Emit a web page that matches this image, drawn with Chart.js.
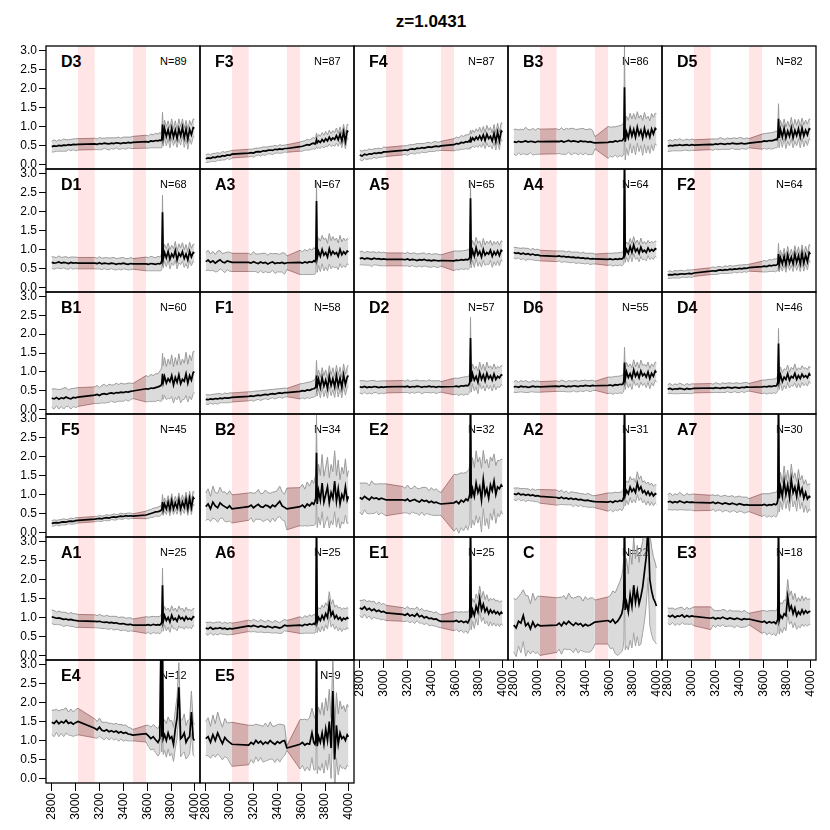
<!DOCTYPE html>
<html>
<head>
<meta charset="utf-8">
<script src="https://cdn.jsdelivr.net/npm/chart.js@4.4.0/dist/chart.umd.min.js"></script>
<style>
html,body{margin:0;padding:0;background:#fff;}
#root{position:relative;width:830px;height:830px;overflow:hidden;font-family:"Liberation Sans",Arial,Helvetica,sans-serif;color:#000;}
#root canvas{position:absolute;}
.title{position:absolute;left:281px;width:300px;top:13px;text-align:center;font-weight:bold;font-size:17px;line-height:17px;}
.pname{position:absolute;font-weight:bold;font-size:16px;line-height:16px;white-space:nowrap;}
.pn{position:absolute;font-size:11px;line-height:11px;white-space:nowrap;text-align:right;width:60px;}
</style>
</head>
<body>
<div id="root"><div class="title">z=1.0431</div></div>
<script>
// ---------------- data ----------------
const wavelength = [
  2800,2820,2840,2860,2880,2900,2920,2940,2960,2980,3000,3020,
  3160,3180,3200,3220,3240,3260,3280,3300,3320,3340,3360,3380,3400,3420,3440,3460,3480,
  3590,3610,3630,3650,3670,3690,3705,3715,3722,3728,3734,3745,3760,3775,3790,3805,3820,3835,3850,3865,3880,3895,3910,3925,3940,3955,3970,3985,3995
];
const segments = [[0,11],[12,28],[29,57]];
const maskBands = [[3020,3160],[3480,3590]];
const xTicks = [2800,3000,3200,3400,3600,3800,4000];
const yTicks = [0,0.5,1,1.5,2,2.5,3];
const xRange = [2752,4042];
const yRange = [-0.12,3.12];
const panelNames = ['D3','F3','F4','B3','D5','D1','A3','A5','A4','F2','B1','F1','D2','D6','D4','F5','B2','E2','A2','A7','A1','A6','E1','C','E3','E4','E5'];
const panelN = [89,87,87,86,82,68,67,65,64,64,60,58,57,55,46,45,34,32,31,30,25,25,25,22,18,12,9];

const med_D3 = [0.47,0.49,0.48,0.50,0.49,0.51,0.50,0.52,0.51,0.53,0.52,0.53,
  0.54,0.53,0.55,0.54,0.56,0.55,0.54,0.56,0.55,0.57,0.56,0.55,0.57,0.56,0.58,0.57,0.58,
  0.60,0.59,0.62,0.61,0.63,0.62,0.64,0.63,0.66,1.05,0.72,0.95,0.74,0.92,0.70,0.96,0.72,0.90,0.68,0.94,0.75,0.98,0.70,0.93,0.66,0.92,0.78,0.97,0.95];
const hw_D3 = [0.14,0.16,0.13,0.15,0.14,0.16,0.15,0.13,0.15,0.14,0.16,0.15,
  0.15,0.14,0.16,0.15,0.13,0.15,0.16,0.14,0.15,0.13,0.16,0.14,0.15,0.16,0.14,0.15,0.16,
  0.17,0.16,0.18,0.17,0.19,0.18,0.20,0.19,0.22,0.32,0.24,0.22,0.25,0.23,0.26,0.24,0.22,0.25,0.23,0.26,0.24,0.22,0.25,0.23,0.26,0.24,0.25,0.23,0.24];

const med_F3 = [0.15,0.17,0.16,0.19,0.18,0.21,0.20,0.23,0.22,0.25,0.24,0.27,
  0.30,0.31,0.30,0.33,0.34,0.33,0.36,0.35,0.37,0.38,0.37,0.40,0.39,0.41,0.40,0.42,0.42,
  0.47,0.48,0.50,0.52,0.51,0.55,0.56,0.54,0.58,0.65,0.57,0.62,0.58,0.66,0.60,0.68,0.62,0.72,0.64,0.70,0.66,0.76,0.65,0.80,0.62,0.86,0.60,0.88,0.86];
const hw_F3 = [0.10,0.11,0.09,0.10,0.11,0.10,0.09,0.11,0.10,0.09,0.11,0.10,
  0.10,0.09,0.11,0.10,0.09,0.11,0.10,0.11,0.09,0.10,0.11,0.10,0.09,0.11,0.10,0.09,0.10,
  0.12,0.13,0.12,0.14,0.13,0.14,0.15,0.14,0.16,0.18,0.15,0.17,0.16,0.18,0.17,0.19,0.16,0.18,0.17,0.19,0.18,0.20,0.17,0.19,0.18,0.20,0.19,0.18,0.19];

const med_F4 = [0.25,0.22,0.27,0.25,0.28,0.27,0.30,0.29,0.31,0.30,0.33,0.33,
  0.37,0.38,0.37,0.40,0.41,0.40,0.43,0.42,0.44,0.43,0.45,0.46,0.45,0.47,0.48,0.47,0.49,
  0.52,0.55,0.54,0.58,0.57,0.60,0.59,0.62,0.60,0.68,0.62,0.70,0.64,0.72,0.66,0.75,0.65,0.78,0.63,0.80,0.68,0.74,0.62,0.82,0.60,0.85,0.62,0.88,0.85];
const hw_F4 = [0.12,0.13,0.11,0.12,0.13,0.12,0.11,0.13,0.12,0.11,0.13,0.12,
  0.12,0.11,0.13,0.12,0.11,0.13,0.12,0.13,0.11,0.12,0.13,0.12,0.11,0.13,0.12,0.11,0.12,
  0.16,0.17,0.16,0.18,0.17,0.18,0.19,0.18,0.20,0.22,0.19,0.21,0.20,0.22,0.21,0.23,0.20,0.22,0.21,0.23,0.22,0.24,0.21,0.23,0.22,0.24,0.23,0.22,0.23];

const med_B3 = [0.60,0.58,0.61,0.59,0.60,0.62,0.59,0.61,0.60,0.58,0.61,0.60,
  0.61,0.60,0.62,0.59,0.61,0.63,0.60,0.62,0.61,0.59,0.62,0.60,0.61,0.59,0.60,0.58,0.57,
  0.58,0.60,0.59,0.62,0.60,0.63,0.62,0.65,0.70,2.03,0.60,0.85,0.70,0.95,0.75,0.92,0.72,0.98,0.78,0.90,0.70,0.95,0.75,0.88,0.72,0.93,0.80,0.95,0.92];
const hw_B3 = [0.32,0.35,0.30,0.34,0.31,0.36,0.33,0.30,0.35,0.32,0.34,0.33,
  0.33,0.31,0.35,0.32,0.34,0.30,0.35,0.33,0.31,0.34,0.32,0.35,0.31,0.33,0.34,0.32,0.16,
  0.42,0.38,0.40,0.37,0.41,0.39,0.42,0.40,0.45,1.15,0.48,0.42,0.46,0.40,0.45,0.42,0.47,0.41,0.44,0.40,0.46,0.42,0.45,0.39,0.43,0.41,0.44,0.40,0.42];

const med_D5 = [0.48,0.50,0.49,0.51,0.50,0.52,0.50,0.51,0.52,0.50,0.52,0.51,
  0.53,0.52,0.54,0.53,0.55,0.54,0.53,0.55,0.54,0.56,0.55,0.54,0.55,0.56,0.54,0.55,0.56,
  0.60,0.62,0.61,0.63,0.62,0.64,0.66,0.65,0.72,1.20,0.70,0.92,0.72,0.95,0.70,0.88,0.74,0.96,0.70,0.90,0.76,0.94,0.72,0.96,0.75,0.90,0.78,0.94,0.92];
const hw_D5 = [0.14,0.15,0.13,0.15,0.14,0.16,0.14,0.13,0.15,0.14,0.15,0.14,
  0.14,0.15,0.13,0.14,0.16,0.14,0.13,0.15,0.14,0.13,0.15,0.14,0.16,0.14,0.13,0.15,0.12,
  0.20,0.19,0.21,0.20,0.22,0.21,0.22,0.21,0.24,0.40,0.26,0.24,0.27,0.25,0.28,0.26,0.25,0.28,0.26,0.29,0.27,0.25,0.28,0.26,0.29,0.27,0.28,0.26,0.27];

const med_D1 = [0.66,0.64,0.65,0.67,0.64,0.66,0.65,0.63,0.66,0.64,0.65,0.64,
  0.64,0.63,0.65,0.62,0.64,0.63,0.62,0.64,0.63,0.61,0.63,0.62,0.64,0.62,0.61,0.63,0.62,
  0.62,0.61,0.63,0.62,0.61,0.63,0.62,0.64,0.70,1.98,0.75,0.92,0.78,0.95,0.74,0.88,0.80,0.97,0.72,0.90,0.82,0.94,0.76,0.88,0.72,0.95,0.80,0.92,0.90];
const hw_D1 = [0.15,0.16,0.14,0.16,0.15,0.14,0.16,0.15,0.14,0.16,0.15,0.15,
  0.15,0.14,0.16,0.15,0.14,0.16,0.15,0.14,0.16,0.15,0.14,0.16,0.15,0.14,0.15,0.16,0.14,
  0.18,0.17,0.19,0.18,0.17,0.19,0.18,0.20,0.22,0.45,0.23,0.22,0.24,0.22,0.25,0.23,0.22,0.24,0.23,0.25,0.22,0.24,0.23,0.25,0.22,0.24,0.23,0.22,0.23];

const med_A3 = [0.68,0.72,0.66,0.70,0.64,0.69,0.73,0.67,0.65,0.70,0.68,0.66,
  0.66,0.64,0.68,0.65,0.63,0.67,0.64,0.66,0.62,0.65,0.67,0.63,0.65,0.64,0.66,0.63,0.65,
  0.66,0.64,0.67,0.65,0.68,0.66,0.70,0.68,0.75,2.28,0.78,0.95,0.82,1.00,0.85,0.92,0.80,1.02,0.86,0.95,0.88,0.92,0.82,1.00,0.86,0.94,0.88,0.96,0.93];
const hw_A3 = [0.24,0.26,0.22,0.25,0.23,0.27,0.24,0.22,0.26,0.23,0.25,0.24,
  0.24,0.22,0.26,0.23,0.25,0.22,0.26,0.24,0.23,0.25,0.22,0.26,0.24,0.23,0.25,0.28,0.18,
  0.32,0.30,0.33,0.31,0.34,0.32,0.35,0.33,0.36,0.55,0.38,0.36,0.40,0.37,0.41,0.38,0.36,0.40,0.37,0.39,0.36,0.38,0.35,0.37,0.34,0.36,0.35,0.33,0.34];

const med_A5 = [0.76,0.78,0.75,0.77,0.76,0.74,0.77,0.75,0.76,0.74,0.75,0.74,
  0.74,0.73,0.75,0.72,0.74,0.73,0.71,0.73,0.72,0.74,0.71,0.72,0.70,0.72,0.71,0.70,0.71,
  0.70,0.72,0.71,0.73,0.72,0.74,0.73,0.75,0.80,2.35,0.80,0.98,0.82,1.05,0.86,0.95,0.80,1.00,0.85,0.92,0.88,0.98,0.82,0.94,0.86,0.96,0.84,0.98,0.95];
const hw_A5 = [0.17,0.18,0.16,0.18,0.17,0.19,0.17,0.16,0.18,0.17,0.18,0.17,
  0.17,0.16,0.18,0.17,0.16,0.18,0.17,0.16,0.18,0.17,0.16,0.18,0.17,0.16,0.18,0.17,0.15,
  0.26,0.24,0.25,0.23,0.25,0.24,0.26,0.25,0.28,0.45,0.28,0.26,0.29,0.27,0.30,0.28,0.26,0.29,0.27,0.30,0.28,0.26,0.29,0.27,0.28,0.26,0.27,0.25,0.26];

const med_A4 = [0.92,0.90,0.91,0.88,0.90,0.87,0.89,0.86,0.88,0.85,0.86,0.84,
  0.82,0.83,0.81,0.82,0.80,0.81,0.79,0.80,0.78,0.79,0.77,0.78,0.76,0.77,0.75,0.76,0.75,
  0.74,0.75,0.73,0.75,0.74,0.76,0.75,0.77,0.82,3.60,0.88,1.00,0.90,1.08,0.92,1.12,0.95,1.02,0.90,1.06,0.94,0.98,0.92,1.04,0.95,1.00,0.96,1.02,1.00];
const hw_A4 = [0.14,0.15,0.13,0.15,0.14,0.16,0.14,0.13,0.15,0.14,0.15,0.14,
  0.14,0.13,0.15,0.14,0.13,0.15,0.14,0.13,0.15,0.14,0.13,0.15,0.14,0.13,0.15,0.14,0.13,
  0.16,0.15,0.17,0.16,0.17,0.16,0.18,0.17,0.20,0.60,0.22,0.20,0.23,0.21,0.24,0.22,0.21,0.23,0.22,0.24,0.21,0.23,0.22,0.20,0.22,0.21,0.22,0.20,0.21];

const med_F2 = [0.33,0.34,0.33,0.35,0.34,0.35,0.36,0.35,0.36,0.37,0.36,0.38,
  0.43,0.44,0.43,0.45,0.46,0.45,0.47,0.46,0.48,0.47,0.49,0.48,0.50,0.49,0.51,0.50,0.52,
  0.55,0.56,0.55,0.58,0.57,0.59,0.58,0.60,0.62,0.88,0.60,0.78,0.62,0.82,0.60,0.86,0.64,0.80,0.62,0.88,0.66,0.84,0.62,0.90,0.64,0.86,0.68,0.92,0.88];
const hw_F2 = [0.09,0.10,0.08,0.10,0.09,0.10,0.09,0.08,0.10,0.09,0.10,0.09,
  0.09,0.10,0.09,0.10,0.09,0.08,0.10,0.09,0.10,0.09,0.08,0.10,0.09,0.10,0.09,0.10,0.09,
  0.14,0.15,0.14,0.16,0.15,0.16,0.17,0.16,0.18,0.28,0.19,0.20,0.19,0.21,0.20,0.22,0.19,0.21,0.20,0.22,0.21,0.23,0.20,0.22,0.21,0.23,0.22,0.21,0.22];

const med_B1 = [0.30,0.28,0.32,0.27,0.31,0.29,0.33,0.30,0.28,0.32,0.31,0.33,
  0.38,0.40,0.37,0.41,0.42,0.40,0.43,0.44,0.42,0.45,0.44,0.46,0.45,0.47,0.46,0.48,0.49,
  0.55,0.54,0.57,0.56,0.58,0.60,0.62,0.64,0.68,0.95,0.72,0.88,0.70,0.82,0.74,0.90,0.65,0.85,0.72,0.92,0.68,0.80,0.75,0.95,0.70,0.90,0.78,0.98,1.00];
const hw_B1 = [0.24,0.27,0.22,0.26,0.23,0.28,0.25,0.22,0.27,0.24,0.26,0.25,
  0.22,0.24,0.21,0.23,0.25,0.22,0.24,0.21,0.23,0.25,0.22,0.24,0.23,0.21,0.24,0.22,0.20,
  0.35,0.33,0.36,0.34,0.37,0.35,0.40,0.42,0.45,0.55,0.45,0.50,0.44,0.52,0.46,0.55,0.48,0.53,0.46,0.56,0.50,0.54,0.48,0.57,0.50,0.55,0.52,0.56,0.54];

const med_F1 = [0.27,0.26,0.28,0.27,0.29,0.28,0.30,0.29,0.31,0.30,0.31,0.32,
  0.35,0.36,0.35,0.37,0.38,0.37,0.39,0.40,0.39,0.41,0.42,0.41,0.43,0.44,0.43,0.45,0.45,
  0.48,0.50,0.49,0.52,0.51,0.54,0.55,0.57,0.60,0.90,0.62,0.80,0.58,0.85,0.62,0.78,0.56,0.88,0.64,0.82,0.60,0.90,0.62,0.84,0.58,0.92,0.66,0.86,0.90];
const hw_F1 = [0.12,0.13,0.11,0.13,0.12,0.14,0.12,0.11,0.13,0.12,0.13,0.12,
  0.12,0.11,0.13,0.12,0.11,0.13,0.12,0.11,0.13,0.12,0.11,0.13,0.12,0.11,0.13,0.12,0.11,
  0.20,0.19,0.21,0.20,0.22,0.21,0.23,0.22,0.25,0.40,0.26,0.25,0.27,0.26,0.28,0.27,0.26,0.28,0.27,0.29,0.28,0.27,0.29,0.28,0.27,0.29,0.28,0.27,0.28];

const med_D2 = [0.60,0.59,0.61,0.58,0.60,0.59,0.61,0.60,0.58,0.60,0.59,0.60,
  0.61,0.60,0.62,0.59,0.61,0.60,0.62,0.61,0.59,0.61,0.60,0.62,0.60,0.61,0.59,0.61,0.60,
  0.61,0.62,0.60,0.63,0.62,0.64,0.63,0.66,0.72,1.90,0.74,0.95,0.78,0.88,0.72,0.98,0.80,0.92,0.76,0.96,0.82,0.90,0.78,0.94,0.80,0.88,0.84,0.92,0.90];
const hw_D2 = [0.16,0.18,0.15,0.17,0.16,0.18,0.16,0.15,0.17,0.16,0.17,0.16,
  0.16,0.15,0.17,0.16,0.15,0.17,0.16,0.15,0.17,0.16,0.15,0.17,0.16,0.15,0.17,0.16,0.14,
  0.22,0.21,0.23,0.22,0.24,0.23,0.24,0.23,0.26,0.55,0.28,0.26,0.29,0.27,0.30,0.28,0.26,0.29,0.27,0.30,0.28,0.26,0.29,0.27,0.28,0.26,0.27,0.25,0.26];

const med_D6 = [0.60,0.61,0.59,0.62,0.60,0.61,0.59,0.60,0.62,0.60,0.61,0.60,
  0.62,0.61,0.63,0.62,0.60,0.62,0.61,0.63,0.62,0.61,0.63,0.62,0.64,0.63,0.62,0.64,0.63,
  0.64,0.65,0.63,0.66,0.65,0.67,0.66,0.68,0.75,1.25,0.80,1.00,0.85,0.95,0.82,1.05,0.88,0.98,0.84,1.02,0.90,0.95,0.86,1.00,0.82,0.96,0.88,1.02,0.98];
const hw_D6 = [0.14,0.16,0.13,0.15,0.14,0.16,0.14,0.13,0.15,0.14,0.15,0.14,
  0.14,0.13,0.15,0.14,0.13,0.15,0.14,0.13,0.15,0.14,0.13,0.15,0.14,0.13,0.15,0.14,0.12,
  0.22,0.21,0.23,0.22,0.23,0.22,0.24,0.23,0.25,0.40,0.27,0.25,0.28,0.26,0.29,0.27,0.25,0.28,0.26,0.29,0.27,0.25,0.28,0.26,0.27,0.25,0.26,0.24,0.25];

const med_D4 = [0.54,0.56,0.53,0.55,0.54,0.56,0.55,0.53,0.56,0.54,0.55,0.56,
  0.57,0.56,0.58,0.57,0.56,0.58,0.57,0.59,0.58,0.57,0.59,0.58,0.57,0.59,0.58,0.60,0.59,
  0.60,0.61,0.60,0.62,0.61,0.63,0.62,0.65,0.72,1.75,0.76,0.92,0.74,0.86,0.80,0.95,0.78,0.88,0.84,0.96,0.80,0.90,0.82,0.94,0.86,0.90,0.84,0.95,0.90];
const hw_D4 = [0.12,0.13,0.11,0.13,0.12,0.14,0.12,0.11,0.13,0.12,0.13,0.12,
  0.12,0.11,0.13,0.12,0.11,0.13,0.12,0.11,0.13,0.12,0.11,0.13,0.12,0.11,0.13,0.12,0.10,
  0.18,0.17,0.19,0.18,0.19,0.18,0.20,0.19,0.22,0.40,0.23,0.21,0.24,0.22,0.25,0.23,0.21,0.24,0.22,0.25,0.23,0.21,0.24,0.22,0.23,0.21,0.22,0.20,0.21];

const med_F5 = [0.24,0.25,0.26,0.25,0.27,0.28,0.27,0.29,0.30,0.29,0.31,0.32,
  0.35,0.36,0.37,0.36,0.38,0.39,0.38,0.40,0.41,0.40,0.42,0.43,0.42,0.44,0.43,0.44,0.43,
  0.46,0.48,0.50,0.52,0.54,0.55,0.56,0.58,0.62,0.80,0.60,0.75,0.62,0.80,0.60,0.84,0.62,0.78,0.64,0.86,0.62,0.80,0.66,0.88,0.62,0.90,0.65,0.92,0.88];
const hw_F5 = [0.07,0.08,0.06,0.08,0.07,0.08,0.07,0.06,0.08,0.07,0.08,0.07,
  0.07,0.06,0.08,0.07,0.06,0.08,0.07,0.06,0.08,0.07,0.06,0.08,0.07,0.06,0.08,0.07,0.06,
  0.10,0.11,0.10,0.12,0.11,0.12,0.13,0.12,0.14,0.20,0.15,0.16,0.15,0.17,0.16,0.18,0.15,0.17,0.16,0.18,0.17,0.19,0.16,0.18,0.17,0.19,0.18,0.17,0.18];

const med_B2 = [0.68,0.75,0.62,0.80,0.70,0.65,0.78,0.72,0.68,0.64,0.70,0.62,
  0.68,0.72,0.65,0.70,0.74,0.68,0.66,0.72,0.70,0.65,0.72,0.68,0.75,0.82,0.70,0.66,0.62,
  0.68,0.72,0.66,0.75,0.70,0.78,0.74,0.82,0.90,2.10,0.75,1.10,0.85,1.30,0.80,1.00,1.20,0.78,1.05,0.90,1.35,0.82,1.15,0.75,1.00,0.88,1.20,0.85,0.95];
const hw_B2 = [0.36,0.40,0.33,0.42,0.35,0.38,0.41,0.34,0.39,0.36,0.40,0.37,
  0.36,0.33,0.38,0.35,0.39,0.34,0.37,0.40,0.35,0.38,0.34,0.39,0.36,0.40,0.37,0.35,0.55,
  0.50,0.55,0.48,0.58,0.52,0.60,0.55,0.62,0.65,1.00,0.62,0.70,0.65,0.75,0.68,0.72,0.78,0.66,0.74,0.70,0.80,0.68,0.76,0.64,0.72,0.66,0.74,0.62,0.68];

const med_E2 = [0.92,0.88,0.95,0.90,0.86,0.93,0.89,0.91,0.87,0.90,0.88,0.86,
  0.86,0.84,0.88,0.82,0.85,0.87,0.83,0.80,0.86,0.82,0.84,0.79,0.82,0.78,0.80,0.77,0.75,
  0.78,0.82,0.76,0.85,0.80,0.88,0.84,0.92,1.00,3.60,0.90,1.15,0.95,1.30,1.05,1.20,0.85,1.40,1.00,1.15,0.90,1.25,1.10,1.35,1.00,1.20,1.15,1.25,1.20];
const hw_E2 = [0.38,0.42,0.35,0.40,0.37,0.43,0.39,0.36,0.41,0.38,0.40,0.42,
  0.35,0.32,0.37,0.34,0.31,0.36,0.33,0.35,0.32,0.37,0.34,0.31,0.36,0.33,0.35,0.32,0.30,
  0.75,0.70,0.78,0.72,0.76,0.70,0.78,0.74,0.80,1.20,0.78,0.82,0.76,0.85,0.80,0.78,0.84,0.76,0.82,0.78,0.80,0.74,0.78,0.72,0.76,0.70,0.74,0.68,0.72];

const med_A2 = [1.02,1.00,1.03,0.99,1.01,0.98,1.00,0.97,0.99,0.96,0.97,0.95,
  0.92,0.90,0.93,0.89,0.91,0.88,0.90,0.87,0.89,0.86,0.87,0.85,0.84,0.85,0.83,0.82,0.81,
  0.80,0.82,0.79,0.83,0.81,0.84,0.82,0.86,0.95,3.60,0.98,1.10,1.02,1.20,1.08,1.15,1.05,1.30,1.12,1.20,1.05,1.10,1.00,1.08,0.98,1.05,0.96,1.02,1.00];
const hw_A2 = [0.15,0.17,0.14,0.16,0.15,0.17,0.15,0.14,0.16,0.15,0.16,0.18,
  0.20,0.17,0.19,0.16,0.18,0.15,0.17,0.19,0.16,0.18,0.15,0.17,0.16,0.18,0.17,0.15,0.16,
  0.24,0.22,0.25,0.23,0.24,0.22,0.25,0.24,0.27,0.50,0.28,0.26,0.29,0.27,0.30,0.28,0.27,0.30,0.28,0.29,0.27,0.26,0.28,0.25,0.27,0.25,0.26,0.24,0.25];

const med_A7 = [0.80,0.82,0.78,0.81,0.79,0.83,0.80,0.78,0.81,0.79,0.80,0.79,
  0.78,0.80,0.76,0.79,0.77,0.75,0.78,0.76,0.74,0.77,0.75,0.73,0.76,0.74,0.72,0.73,0.72,
  0.72,0.74,0.71,0.73,0.72,0.75,0.73,0.76,0.85,3.60,0.90,1.20,0.95,1.35,1.00,1.25,0.92,1.40,1.05,1.20,0.95,1.30,1.00,1.15,0.90,1.05,0.88,0.95,0.92];
const hw_A7 = [0.20,0.22,0.19,0.21,0.20,0.23,0.20,0.19,0.22,0.20,0.21,0.22,
  0.20,0.19,0.21,0.20,0.18,0.21,0.20,0.19,0.21,0.20,0.18,0.21,0.20,0.19,0.21,0.20,0.17,
  0.30,0.28,0.31,0.29,0.32,0.30,0.33,0.31,0.35,0.60,0.36,0.38,0.35,0.40,0.37,0.39,0.36,0.40,0.38,0.37,0.39,0.36,0.38,0.35,0.37,0.34,0.36,0.33,0.35];

const med_A1 = [1.02,1.00,0.98,0.99,0.97,0.95,0.96,0.94,0.95,0.93,0.92,0.91,
  0.90,0.89,0.90,0.88,0.87,0.88,0.86,0.87,0.85,0.86,0.84,0.83,0.84,0.82,0.81,0.82,0.80,
  0.80,0.81,0.79,0.82,0.80,0.81,0.80,0.83,0.88,1.85,0.90,1.05,0.92,1.00,0.88,1.06,0.94,0.98,0.90,1.04,0.96,1.00,0.92,1.02,0.95,0.98,0.94,1.02,1.00];
const hw_A1 = [0.17,0.19,0.16,0.18,0.17,0.19,0.17,0.16,0.18,0.17,0.18,0.17,
  0.17,0.16,0.18,0.17,0.16,0.18,0.17,0.16,0.18,0.17,0.16,0.18,0.17,0.16,0.18,0.17,0.16,
  0.22,0.20,0.23,0.21,0.22,0.21,0.23,0.22,0.25,0.45,0.26,0.24,0.27,0.25,0.27,0.25,0.24,0.27,0.25,0.26,0.24,0.25,0.23,0.25,0.24,0.23,0.24,0.22,0.23];

const med_A6 = [0.72,0.70,0.74,0.69,0.72,0.71,0.73,0.70,0.72,0.69,0.71,0.70,
  0.78,0.76,0.79,0.77,0.75,0.78,0.76,0.74,0.77,0.75,0.73,0.76,0.74,0.72,0.75,0.80,0.78,
  0.80,0.78,0.82,0.80,0.83,0.81,0.84,0.82,0.90,3.60,0.88,1.00,0.92,1.05,0.95,1.10,1.00,1.35,1.05,1.15,0.98,1.05,0.95,1.00,0.92,0.98,0.95,1.00,0.96];
const hw_A6 = [0.15,0.17,0.14,0.16,0.15,0.17,0.15,0.14,0.16,0.15,0.16,0.15,
  0.15,0.14,0.16,0.15,0.14,0.16,0.15,0.14,0.16,0.15,0.14,0.16,0.15,0.14,0.16,0.15,0.14,
  0.22,0.20,0.23,0.21,0.24,0.22,0.25,0.23,0.27,0.60,0.28,0.26,0.30,0.28,0.31,0.29,0.30,0.33,0.30,0.32,0.29,0.28,0.30,0.27,0.29,0.27,0.28,0.26,0.27];

const med_E1 = [1.25,1.22,1.28,1.20,1.24,1.18,1.22,1.16,1.19,1.14,1.16,1.12,
  1.08,1.06,1.10,1.04,1.07,1.03,1.10,1.02,1.05,0.99,1.02,0.97,0.98,0.95,0.96,0.92,0.90,
  0.90,0.92,0.88,0.91,0.87,0.90,0.86,0.92,0.98,3.60,1.00,1.20,1.05,1.30,1.15,1.50,1.20,1.35,1.15,1.25,1.10,1.20,1.12,1.18,1.10,1.15,1.08,1.14,1.10];
const hw_E1 = [0.20,0.23,0.19,0.22,0.20,0.23,0.21,0.19,0.22,0.20,0.21,0.20,
  0.18,0.17,0.19,0.18,0.17,0.19,0.18,0.17,0.19,0.18,0.17,0.19,0.18,0.17,0.19,0.18,0.17,
  0.25,0.23,0.26,0.24,0.27,0.25,0.28,0.26,0.30,0.60,0.32,0.30,0.34,0.32,0.35,0.33,0.31,0.34,0.32,0.35,0.33,0.31,0.34,0.32,0.33,0.31,0.32,0.30,0.31];

const med_C = [0.80,0.72,0.90,0.85,1.05,0.78,0.85,0.70,0.88,0.75,0.82,0.78,
  0.80,0.85,0.78,0.88,0.82,0.90,0.84,0.79,0.86,0.81,0.84,0.77,0.82,0.78,0.80,0.84,0.88,
  0.92,0.88,0.95,0.85,0.90,1.00,1.10,1.25,1.50,3.60,1.20,1.40,1.15,1.60,1.30,1.85,1.40,1.70,1.35,1.55,1.80,2.20,2.60,3.40,2.00,1.70,1.50,1.40,1.30];
const hw_C = [0.70,0.75,0.65,0.78,0.68,0.80,0.72,0.66,0.76,0.70,0.74,0.78,
  0.72,0.68,0.75,0.70,0.66,0.74,0.69,0.72,0.67,0.75,0.70,0.66,0.73,0.69,0.71,0.68,0.58,
  0.62,0.70,0.75,0.80,0.90,0.95,1.00,1.05,1.10,1.40,1.05,1.15,1.00,1.20,1.10,1.25,1.15,1.20,1.10,1.25,1.20,1.30,1.25,1.35,1.20,1.15,1.10,1.05,1.00];

const med_E3 = [1.05,1.02,1.06,1.00,1.04,1.03,1.07,1.01,1.05,1.02,1.04,1.03,
  0.98,1.00,0.96,0.99,0.97,1.01,0.98,0.96,0.99,0.97,0.95,0.98,0.96,0.94,0.97,0.95,0.96,
  0.88,0.90,0.85,0.89,0.86,0.88,0.84,0.90,0.95,3.60,0.92,1.05,0.98,1.10,1.05,1.55,1.20,1.30,1.10,1.25,1.05,1.15,1.08,1.20,1.10,1.18,1.12,1.16,1.15];
const hw_E3 = [0.20,0.22,0.19,0.21,0.20,0.23,0.20,0.19,0.22,0.20,0.21,0.25,
  0.30,0.20,0.22,0.19,0.21,0.20,0.22,0.19,0.21,0.20,0.22,0.19,0.21,0.20,0.22,0.19,0.15,
  0.30,0.28,0.31,0.29,0.32,0.30,0.33,0.31,0.35,0.70,0.36,0.34,0.38,0.36,0.40,0.45,0.38,0.40,0.37,0.39,0.36,0.38,0.35,0.37,0.34,0.36,0.35,0.33,0.34];

const med_E4 = [1.48,1.45,1.52,1.44,1.50,1.46,1.53,1.45,1.48,1.43,1.47,1.50,
  1.32,1.28,1.35,1.27,1.25,1.28,1.23,1.26,1.22,1.25,1.20,1.23,1.19,1.21,1.17,1.16,1.14,
  1.18,1.12,1.05,1.10,1.02,0.95,1.05,3.60,1.10,3.60,1.05,1.15,1.00,1.20,1.05,1.10,0.90,1.30,1.60,2.40,1.05,1.10,1.20,0.95,1.05,1.10,1.75,1.05,1.00];
const hw_E4 = [0.32,0.35,0.30,0.34,0.31,0.36,0.33,0.30,0.35,0.32,0.34,0.35,
  0.25,0.22,0.24,0.21,0.23,0.20,0.22,0.19,0.21,0.20,0.22,0.19,0.21,0.20,0.18,0.17,0.15,
  0.22,0.28,0.30,0.32,0.34,0.36,0.38,0.60,0.40,0.60,0.42,0.40,0.44,0.42,0.46,0.43,0.45,0.50,0.55,0.65,0.48,0.45,0.50,0.44,0.48,0.45,0.55,0.44,0.42];

const med_E5 = [1.05,1.10,0.95,1.15,1.00,1.20,1.05,0.92,1.08,1.00,0.95,0.90,
  0.88,0.95,0.90,1.00,0.93,0.98,0.90,0.96,0.92,1.00,0.94,0.90,0.97,0.93,0.98,1.00,0.80,
  0.90,0.95,0.88,0.92,0.90,1.20,0.95,0.90,1.00,3.60,0.85,1.10,0.95,1.20,0.90,1.30,1.00,1.50,0.80,2.30,0.50,1.40,0.90,1.20,1.05,1.10,1.00,1.15,1.10];
const hw_E5 = [0.45,0.50,0.42,0.52,0.44,0.55,0.47,0.43,0.50,0.46,0.52,0.58,
  0.52,0.45,0.50,0.43,0.48,0.42,0.47,0.50,0.44,0.49,0.43,0.48,0.45,0.50,0.44,0.40,0.06,
  0.65,0.60,0.68,0.62,0.70,0.65,0.72,0.68,0.75,1.20,0.72,0.78,0.74,0.80,0.76,0.82,0.78,0.85,0.80,0.90,0.82,0.86,0.80,0.84,0.78,0.82,0.76,0.80,0.78];

// lookup tables built from the named arrays
const medTable = {D3:med_D3,F3:med_F3,F4:med_F4,B3:med_B3,D5:med_D5,D1:med_D1,A3:med_A3,A5:med_A5,A4:med_A4,F2:med_F2,
  B1:med_B1,F1:med_F1,D2:med_D2,D6:med_D6,D4:med_D4,F5:med_F5,B2:med_B2,E2:med_E2,A2:med_A2,A7:med_A7,
  A1:med_A1,A6:med_A6,E1:med_E1,C:med_C,E3:med_E3,E4:med_E4,E5:med_E5};
const hwTable = {D3:hw_D3,F3:hw_F3,F4:hw_F4,B3:hw_B3,D5:hw_D5,D1:hw_D1,A3:hw_A3,A5:hw_A5,A4:hw_A4,F2:hw_F2,
  B1:hw_B1,F1:hw_F1,D2:hw_D2,D6:hw_D6,D4:hw_D4,F5:hw_F5,B2:hw_B2,E2:hw_E2,A2:hw_A2,A7:hw_A7,
  A1:hw_A1,A6:hw_A6,E1:hw_E1,C:hw_C,E3:hw_E3,E4:hw_E4,E5:hw_E5};

// ---------------- layout / style ----------------
const GRID_L = 46, GRID_T = 46, CELL_W = 154, CELL_H = 122.8, NCOL = 5;
const PAD = 20, YAXW = 46, XAXH = 50;
const FONT = '"Liberation Sans", Arial, Helvetica, sans-serif';
const COL_MED = '#000000', COL_GRAY = '#999999', COL_BAND = 'rgba(190,190,190,0.55)';
const COL_GAPLINE = 'rgba(130,70,70,0.6)', COL_GAPFILL = 'rgba(150,90,90,0.4)';
const COL_MASK = 'rgba(255,0,0,0.1)';

Chart.defaults.font.family = FONT;

const panelPlugin = {
  id: 'panelDecor',
  beforeDatasetsDraw(chart) {
    const {ctx, chartArea: a, scales} = chart;
    ctx.save();
    ctx.beginPath();
    ctx.rect(a.left, a.top, a.right - a.left, a.bottom - a.top);
    ctx.clip();
    ctx.fillStyle = COL_MASK;
    maskBands.forEach(([b0, b1]) => {
      const p0 = scales.x.getPixelForValue(b0), p1 = scales.x.getPixelForValue(b1);
      ctx.fillRect(p0, a.top, p1 - p0, a.bottom - a.top);
    });
    ctx.restore();
  },
  afterDraw(chart) {
    const {ctx, chartArea: a} = chart;
    ctx.save();
    ctx.strokeStyle = '#000';
    ctx.lineWidth = 1.3;
    ctx.strokeRect(a.left, a.top, a.right - a.left, a.bottom - a.top);
    ctx.restore();
  }
};

const root = document.getElementById('root');
const nPanels = panelNames.length;

function pt(k, arr, hw, sign) {
  return {x: wavelength[k], y: arr[k] + sign * (hw ? hw[k] : 0)};
}

panelNames.forEach((name, i) => {
  const r = Math.floor(i / NCOL), c = i % NCOL;
  const left = GRID_L + c * CELL_W;
  const top = Math.round(GRID_T + r * CELL_H);
  const bottom = Math.round(GRID_T + (r + 1) * CELL_H);
  const h = bottom - top, w = CELL_W;
  const firstCol = c === 0;
  const lastInCol = (i + NCOL) >= nPanels;

  const padL = firstCol ? 4 + YAXW : PAD;
  const padB = lastInCol ? 5 + XAXH : PAD;
  const cw = w + padL + PAD, ch = h + PAD + padB;

  // labels (real text, behind plot lines)
  const nm = document.createElement('div');
  nm.className = 'pname';
  nm.textContent = name;
  nm.style.left = (left + 15) + 'px';
  nm.style.top = (top + 7.8) + 'px';
  root.appendChild(nm);
  const nl = document.createElement('div');
  nl.className = 'pn';
  nl.textContent = 'N=' + panelN[i];
  nl.style.left = (left + w - 13.3 - 60) + 'px';
  nl.style.top = (top + 10.4) + 'px';
  root.appendChild(nl);

  const cv = document.createElement('canvas');
  cv.width = cw; cv.height = ch;
  cv.style.width = cw + 'px'; cv.style.height = ch + 'px';
  cv.style.left = (left - padL) + 'px';
  cv.style.top = (top - PAD) + 'px';
  root.appendChild(cv);

  const med = medTable[name], hw = hwTable[name];
  const ds = [];
  ds.push({data: wavelength.map((x, k) => ({x, y: med[k]})), borderColor: COL_MED, borderWidth: 1.7,
    pointRadius: 0, fill: false, clip: 0});
  for (let g = 0; g < segments.length - 1; g++) {
    const a = segments[g][1], b = segments[g + 1][0];
    ds.push({data: [pt(a, med, hw, 1), pt(b, med, hw, 1)], borderColor: COL_GAPLINE, borderWidth: 1,
      pointRadius: 0, fill: '+1', backgroundColor: COL_GAPFILL, clip: 0});
    ds.push({data: [pt(a, med, hw, -1), pt(b, med, hw, -1)], borderColor: COL_GAPLINE, borderWidth: 1,
      pointRadius: 0, fill: false, clip: 0});
  }
  segments.forEach(([s0, s1]) => {
    const up = [], lo = [];
    for (let k = s0; k <= s1; k++) { up.push(pt(k, med, hw, 1)); lo.push(pt(k, med, hw, -1)); }
    ds.push({data: up, borderColor: COL_GRAY, borderWidth: 1, pointRadius: 0, fill: '+1',
      backgroundColor: COL_BAND, clip: 0});
    ds.push({data: lo, borderColor: COL_GRAY, borderWidth: 1, pointRadius: 0, fill: false, clip: 0});
  });

  new Chart(cv, {
    type: 'line',
    data: {datasets: ds},
    plugins: [panelPlugin],
    options: {
      responsive: false,
      animation: false,
      events: [],
      layout: {padding: {left: firstCol ? 4 : PAD, right: PAD, top: PAD, bottom: lastInCol ? 5 : PAD}},
      plugins: {legend: {display: false}, tooltip: {enabled: false}, title: {display: false},
        filler: {propagate: false}},
      elements: {line: {tension: 0}},
      scales: {
        x: {
          type: 'linear', min: xRange[0], max: xRange[1], display: lastInCol,
          afterBuildTicks: (s) => { s.ticks = xTicks.map(v => ({value: v})); },
          afterFit: (s) => { s.height = lastInCol ? XAXH : 0; },
          ticks: {autoSkip: false, minRotation: 90, maxRotation: 90, padding: 2, color: '#000',
            font: {family: FONT, size: 12}, callback: (v) => String(v)},
          grid: {display: true, drawOnChartArea: false, drawTicks: true, tickLength: 8, color: '#000', lineWidth: 1},
          border: {display: false}
        },
        y: {
          type: 'linear', min: yRange[0], max: yRange[1], display: firstCol,
          afterBuildTicks: (s) => { s.ticks = yTicks.map(v => ({value: v})); },
          afterFit: (s) => { s.width = firstCol ? YAXW : 0; },
          ticks: {padding: 2, color: '#000', font: {family: FONT, size: 12}, callback: (v) => Number(v).toFixed(1)},
          grid: {display: true, drawOnChartArea: false, drawTicks: true, tickLength: 7, color: '#000', lineWidth: 1},
          border: {display: false}
        }
      }
    }
  });
});
</script>
</body>
</html>
